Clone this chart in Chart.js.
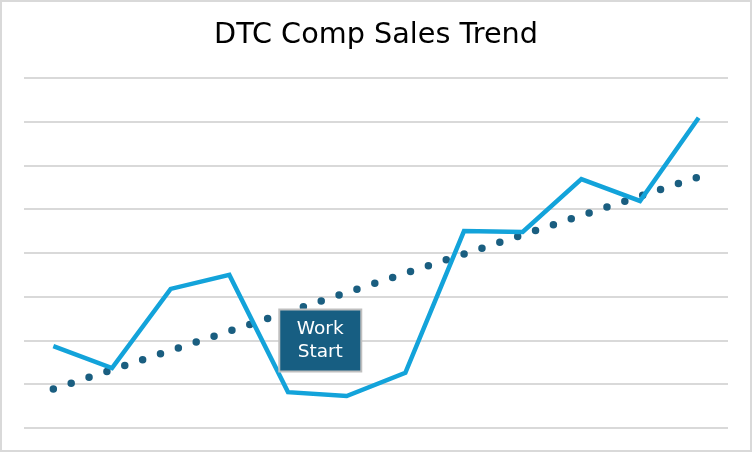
<!DOCTYPE html>
<html>
<head>
<meta charset="utf-8">
<script src="https://cdn.jsdelivr.net/npm/chart.js@4.4.1/dist/chart.umd.min.js"></script>
<style>
  html, body { margin: 0; padding: 0; background: #fff; }
  #wrap { width: 752px; height: 452px; }
</style>
</head>
<body>
<div id="wrap"><canvas id="salesChart" width="752" height="452"></canvas></div>
<script>
// Chart data
const periods = ['P1', 'P2', 'P3', 'P4', 'P5', 'P6', 'P7', 'P8', 'P9', 'P10', 'P11', 'P12'];
const compSales = [1.87, 1.37, 3.18, 3.50, 0.82, 0.73, 1.26, 4.50, 4.48, 5.69, 5.19, 7.09];
// trend line: only the two ends are known, the library joins them
const trendValues = [0.89, null, null, null, null, null, null, null, null, null, null, 5.74];
const yTicks = [0, 1, 2, 3, 4, 5, 6, 7, 8];
const noteLines = ['Work', 'Start'];
const notePosition = [4.55, 2.0]; // category index, value

const fontFamily = '"DejaVu Sans", "Open Sans", sans-serif';

// Frame round the whole picture
const framePlugin = {
    id: 'frame',
    afterDraw: (chart) => {
        const ctx = chart.ctx;
        ctx.save();
        ctx.strokeStyle = '#d9d9d9';
        ctx.lineWidth = 2;
        ctx.strokeRect(1, 1, chart.width - 2, chart.height - 2);
        ctx.restore();
    }
};

// "Work Start" call-out box
const notePlugin = {
    id: 'note',
    afterDatasetsDraw: (chart) => {
        const ctx = chart.ctx;
        const cx = chart.scales.x.getPixelForValue(notePosition[0]);
        const cy = chart.scales.y.getPixelForValue(notePosition[1]);
        const w = 82, h = 62;
        ctx.save();
        ctx.fillStyle = '#175e82';
        ctx.fillRect(cx - w / 2, cy - h / 2, w, h);
        ctx.strokeStyle = '#bfbfbf';
        ctx.lineWidth = 2;
        ctx.strokeRect(cx - w / 2, cy - h / 2, w, h);
        ctx.fillStyle = '#ffffff';
        ctx.font = '18.5px ' + fontFamily;
        ctx.textAlign = 'center';
        ctx.textBaseline = 'middle';
        ctx.fillText(noteLines[0], cx, cy - 11);
        ctx.fillText(noteLines[1], cx, cy + 12);
        ctx.restore();
    }
};

new Chart(document.getElementById('salesChart'), {
    type: 'line',
    data: {
        labels: periods,
        datasets: [{
            label: 'DTC Comp Sales',
            data: compSales,
            borderColor: '#13a3da',
            borderWidth: 4.5,
            pointRadius: 0,
            tension: 0,
            borderJoinStyle: 'miter',
            order: 1
        }, {
            label: 'Trend',
            data: trendValues,
            spanGaps: true,
            borderColor: '#1a5e80',
            borderWidth: 7.5,
            borderCapStyle: 'round',
            borderDash: [0, 18.8],
            pointRadius: 0,
            order: 2
        }]
    },
    options: {
        responsive: false,
        animation: false,
        devicePixelRatio: 1,
        layout: { padding: { left: 24, right: 24, top: 0, bottom: 24 } },
        plugins: {
            legend: { display: false },
            tooltip: { enabled: false },
            title: {
                display: true,
                text: 'DTC Comp Sales Trend',
                color: '#000000',
                font: { family: fontFamily, size: 28.7, weight: 'normal', lineHeight: 1.2 },
                padding: { top: 18, bottom: 25.56 }
            }
        },
        scales: {
            x: {
                display: false,
                offset: true
            },
            y: {
                min: yTicks[0],
                max: yTicks[yTicks.length - 1],
                afterBuildTicks: (axis) => { axis.ticks = yTicks.map(v => ({ value: v })); },
                border: { display: false },
                ticks: { display: false },
                grid: { color: '#d9d9d9', lineWidth: 2, drawTicks: false }
            }
        }
    },
    plugins: [framePlugin, notePlugin]
});
</script>
</body>
</html>
